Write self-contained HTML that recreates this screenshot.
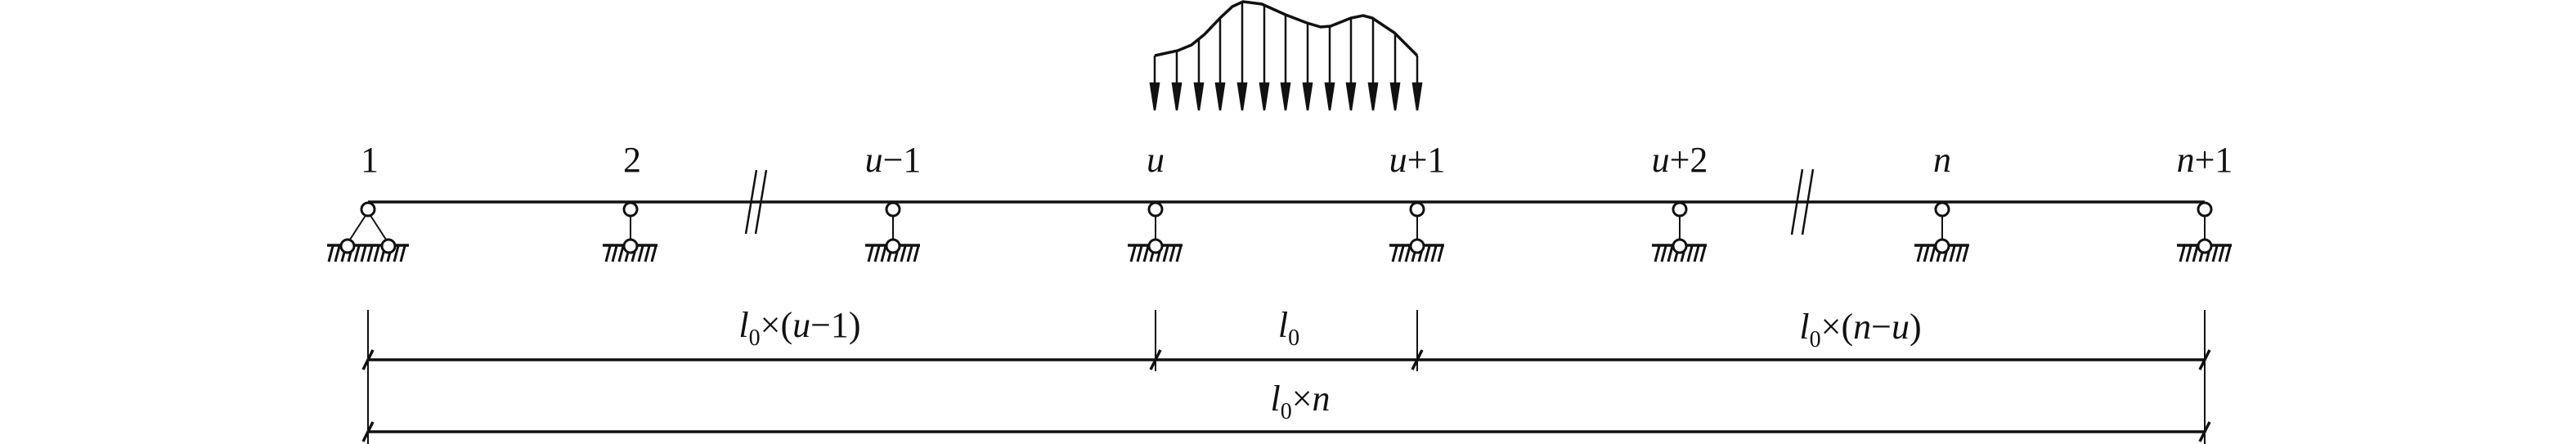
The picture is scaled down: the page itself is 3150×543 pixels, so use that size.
<!DOCTYPE html>
<html><head><meta charset="utf-8"><style>
html,body{margin:0;padding:0;background:#fff;}
svg{display:block;}
text{font-family:"Liberation Serif",serif;fill:#111;}
</style></head><body>
<svg width="3150" height="543" viewBox="0 0 3150 543" xmlns="http://www.w3.org/2000/svg">
<g stroke="#111" fill="none" stroke-width="2">
<path stroke-width="3.5" d="M1412,68 L1440,62 L1457,55 L1473,42 L1492,22 L1507,8 L1520,2 L1543,5 L1572,18 L1598,28 L1615,33 L1627,32 L1652,22 L1667,19 L1678,22 L1705,40 L1733,68"/>
</g>
<g stroke="#111" stroke-width="2.5" fill="#111">
<line x1="1412" y1="68" x2="1412" y2="110"/><polygon points="1407,102 1417,102 1412,135"/>
<line x1="1439" y1="62" x2="1439" y2="110"/><polygon points="1434,102 1444,102 1439,135"/>
<line x1="1466" y1="48" x2="1466" y2="110"/><polygon points="1461,102 1471,102 1466,135"/>
<line x1="1492" y1="22" x2="1492" y2="110"/><polygon points="1487,102 1497,102 1492,135"/>
<line x1="1519" y1="2" x2="1519" y2="110"/><polygon points="1514,102 1524,102 1519,135"/>
<line x1="1546" y1="6" x2="1546" y2="110"/><polygon points="1541,102 1551,102 1546,135"/>
<line x1="1572" y1="18" x2="1572" y2="110"/><polygon points="1567,102 1577,102 1572,135"/>
<line x1="1599" y1="28" x2="1599" y2="110"/><polygon points="1594,102 1604,102 1599,135"/>
<line x1="1626" y1="32" x2="1626" y2="110"/><polygon points="1621,102 1631,102 1626,135"/>
<line x1="1652" y1="22" x2="1652" y2="110"/><polygon points="1647,102 1657,102 1652,135"/>
<line x1="1679" y1="22" x2="1679" y2="110"/><polygon points="1674,102 1684,102 1679,135"/>
<line x1="1706" y1="40" x2="1706" y2="110"/><polygon points="1701,102 1711,102 1706,135"/>
<line x1="1733" y1="68" x2="1733" y2="110"/><polygon points="1728,102 1738,102 1733,135"/>
</g>
<line x1="450" y1="247" x2="2696" y2="247" stroke="#111" stroke-width="3.5"/>
<g stroke="#111" stroke-width="2.5">
<line x1="912" y1="286" x2="925" y2="208"/><line x1="924" y1="286" x2="937" y2="208"/>
<line x1="2191" y1="287" x2="2204" y2="207"/><line x1="2204" y1="287" x2="2217" y2="207"/>
</g>
<defs>
<g id="sup">
<line x1="0" y1="264" x2="0" y2="293" stroke="#111" stroke-width="2"/>
<line x1="-34" y1="300" x2="33" y2="300" stroke="#111" stroke-width="3.5"/>
<g stroke="#111" stroke-width="3">
<line x1="-30" y1="320" x2="-25" y2="301"/><line x1="-22" y1="320" x2="-17" y2="301"/>
<line x1="-14" y1="320" x2="-9" y2="301"/><line x1="-6" y1="320" x2="-1" y2="301"/>
<line x1="2" y1="320" x2="7" y2="301"/><line x1="10" y1="320" x2="15" y2="301"/>
<line x1="18" y1="320" x2="23" y2="301"/><line x1="26" y1="320" x2="31" y2="301"/>
</g>
<circle cx="0" cy="256" r="8" fill="#fff" stroke="#111" stroke-width="3"/>
<circle cx="0" cy="301" r="8" fill="#fff" stroke="#111" stroke-width="3"/>
</g>
</defs>
<g transform="translate(450,0)">
<line x1="-2" y1="262" x2="-24" y2="296" stroke="#111" stroke-width="2"/>
<line x1="2" y1="262" x2="24" y2="296" stroke="#111" stroke-width="2"/>
<line x1="-50" y1="300" x2="50" y2="300" stroke="#111" stroke-width="3.5"/>
<g stroke="#111" stroke-width="3">
<line x1="-48" y1="320" x2="-43" y2="301"/><line x1="-40" y1="320" x2="-35" y2="301"/>
<line x1="-32" y1="320" x2="-27" y2="301"/><line x1="-24" y1="320" x2="-19" y2="301"/>
<line x1="-16" y1="320" x2="-11" y2="301"/><line x1="-8" y1="320" x2="-3" y2="301"/>
<line x1="0" y1="320" x2="5" y2="301"/><line x1="8" y1="320" x2="13" y2="301"/>
<line x1="16" y1="320" x2="21" y2="301"/><line x1="24" y1="320" x2="29" y2="301"/>
<line x1="32" y1="320" x2="37" y2="301"/><line x1="40" y1="320" x2="45" y2="301"/>
</g>
<circle cx="0" cy="256" r="8" fill="#fff" stroke="#111" stroke-width="3"/>
<circle cx="-25" cy="301" r="8" fill="#fff" stroke="#111" stroke-width="3"/>
<circle cx="25" cy="301" r="8" fill="#fff" stroke="#111" stroke-width="3"/>
</g>
<use href="#sup" x="771"/><use href="#sup" x="1092"/><use href="#sup" x="1413"/>
<use href="#sup" x="1733"/><use href="#sup" x="2054"/><use href="#sup" x="2375"/><use href="#sup" x="2696"/>
<g font-size="44" text-anchor="middle">
<text x="452" y="210">1</text>
<text x="773" y="210">2</text>
<text x="1092" y="210"><tspan font-style="italic">u</tspan>−1</text>
<text x="1413" y="210" font-style="italic">u</text>
<text x="1733" y="210"><tspan font-style="italic">u</tspan>+1</text>
<text x="2054" y="210"><tspan font-style="italic">u</tspan>+2</text>
<text x="2375" y="210" font-style="italic">n</text>
<text x="2696" y="210"><tspan font-style="italic">n</tspan>+1</text>
</g>
<g stroke="#111" stroke-width="2">
<line x1="450" y1="379" x2="450" y2="543"/>
<line x1="1413" y1="379" x2="1413" y2="454"/>
<line x1="1733" y1="379" x2="1733" y2="454"/>
<line x1="2696" y1="379" x2="2696" y2="543"/>
</g>
<g stroke="#111" stroke-width="3.5">
<line x1="450" y1="440" x2="2696" y2="440"/>
<line x1="450" y1="528" x2="2696" y2="528"/>
<line x1="444" y1="452" x2="456" y2="428"/>
<line x1="1407" y1="452" x2="1419" y2="428"/>
<line x1="1727" y1="452" x2="1739" y2="428"/>
<line x1="2690" y1="452" x2="2702" y2="428"/>
<line x1="444" y1="540" x2="456" y2="516"/>
<line x1="2690" y1="540" x2="2702" y2="516"/>
</g>
<g font-size="44">
<text x="978" y="412" text-anchor="middle"><tspan font-style="italic">l</tspan><tspan font-size="28" dy="10">0</tspan><tspan dy="-10">×(</tspan><tspan font-style="italic">u</tspan>−1)</text>
<text x="1576" y="412" text-anchor="middle"><tspan font-style="italic">l</tspan><tspan font-size="28" dy="10">0</tspan></text>
<text x="2275" y="414" text-anchor="middle"><tspan font-style="italic">l</tspan><tspan font-size="28" dy="10">0</tspan><tspan dy="-10">×(</tspan><tspan font-style="italic">n</tspan>−<tspan font-style="italic">u</tspan>)</text>
<text x="1590" y="502" text-anchor="middle"><tspan font-style="italic">l</tspan><tspan font-size="28" dy="10">0</tspan><tspan dy="-10">×</tspan><tspan font-style="italic">n</tspan></text>
</g>
</svg>
</body></html>
